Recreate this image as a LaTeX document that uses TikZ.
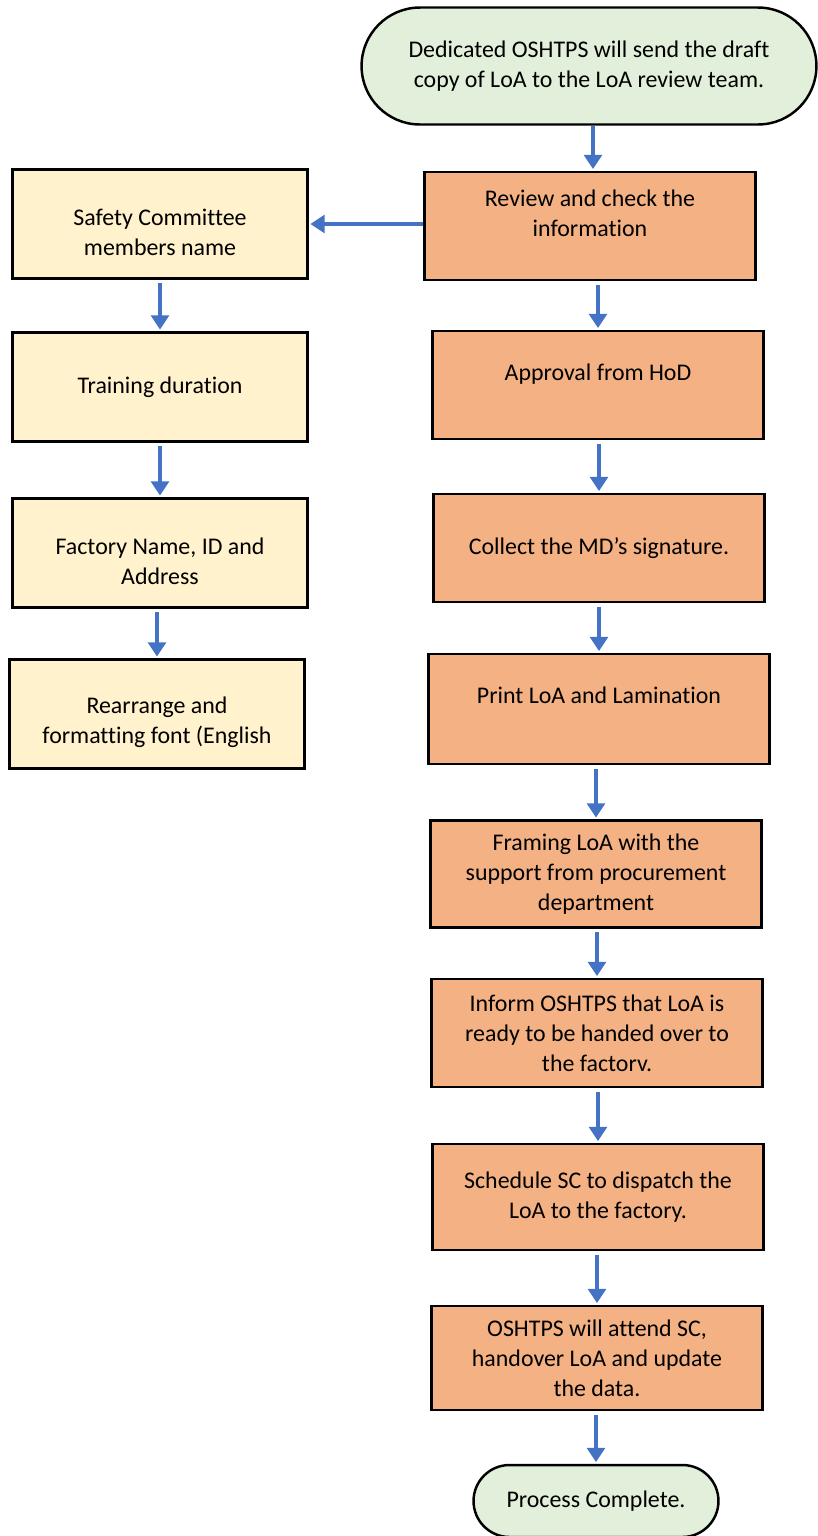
\documentclass[tikz,border=0pt]{standalone}
\usepackage{fontspec}
\setmainfont{Carlito}[Ligatures=NoCommon]
\usepackage{xcolor}
\usetikzlibrary{arrows.meta, positioning, shapes.misc}

\definecolor{flowblue}{RGB}{68,114,196}
\definecolor{termgreen}{RGB}{226,239,218}
\definecolor{stepfill}{RGB}{244,177,131}
\definecolor{infofill}{RGB}{255,242,204}

\begin{document}
\begin{tikzpicture}[
  x=0.02cm, y=-0.02cm,
  every node/.style={font=\fontsize{13.6}{17}\selectfont, align=center},
  termbox/.style={rounded rectangle, draw, line width=1.4pt, fill=termgreen, inner sep=2pt},
  stepbox/.style={rectangle, draw, line width=1.4pt, fill=stepfill, minimum width=6.62cm, minimum height=2.16cm, inner sep=2pt},
  infobox/.style={rectangle, draw, line width=1.4pt, fill=infofill, minimum width=5.9cm, minimum height=2.18cm, inner sep=2pt},
  flow/.style={-{Triangle[width=10pt, length=8pt]}, line width=2.8pt, draw=flowblue, shorten <=2pt, shorten >=1pt}
]
  \useasboundingbox (0,0) rectangle (818,1536);

  % main column
  \node[termbox, minimum width=9.24cm, minimum height=2.34cm] (start) at (589,66) {Dedicated OSHTPS will send the draft\\copy of LoA to the LoA review team.};
  \node[stepbox, text depth=15pt] (review)   at (590,226)  {Review and check the\\information};
  \node[stepbox, text depth=15pt] (approval) at (598,385)  {Approval from HoD};
  \node[stepbox]                  (collect)  at (599,548)  {Collect the MD’s signature.};
  \node[stepbox, minimum width=6.82cm, minimum height=2.2cm, text depth=16pt] (print) at (599,709) {Print LoA and Lamination};
  \node[stepbox, minimum height=2.14cm] (framing)  at (596,874)  {Framing LoA with the\\support from procurement\\department};
  \node[stepbox]                  (inform)   at (597,1033) {Inform OSHTPS that LoA is\\ready to be handed over to\\the factorv.};
  \node[stepbox, minimum height=2.12cm] (schedule) at (598,1197) {Schedule SC to dispatch the\\LoA to the factory.};
  \node[stepbox, minimum height=2.08cm] (attend)   at (597,1358) {OSHTPS will attend SC,\\handover LoA and update\\the data.};
  \node[termbox, minimum width=5.04cm, minimum height=1.44cm] (done) at (596,1501) {Process Complete.};

  % side column
  \node[infobox, text height=36pt] (safety)    at (160,224) {Safety Committee\\members name};
  \node[infobox]                   (training)  at (160,387) {Training duration};
  \node[infobox, text height=36pt] (factory)   at (160,553) {Factory Name, ID and\\Address};
  \node[infobox, text height=36pt] (rearrange) at (157,714) {Rearrange and\\formatting font (English};

  \draw[flow, shorten <=0pt] (start.south -| 593,0) -- (review.north -| 593,0);
  \foreach \from/\to in {review/approval, approval/collect, collect/print, print/framing,
                         framing/inform, inform/schedule, schedule/attend, attend/done}{
    \draw[flow] (\from.south -| \to.north) -- (\to.north);
  }
  \draw[flow, shorten <=0pt] (review.west |- safety.east) -- (safety.east);
  \foreach \from/\to in {safety/training, training/factory, factory/rearrange}{
    \draw[flow] (\from.south -| \to.north) -- (\to.north);
  }
\end{tikzpicture}
\end{document}
